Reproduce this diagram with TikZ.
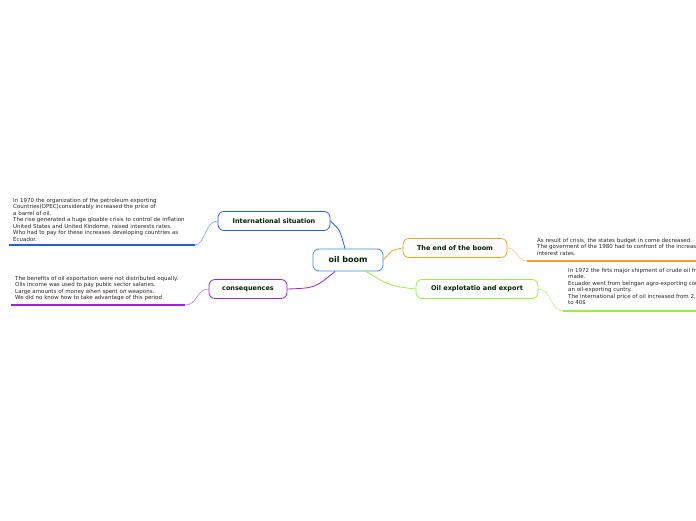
\documentclass[tikz,border=0pt]{standalone}
\usepackage{fontspec}
\setmainfont{DejaVu Sans}
\definecolor{cb}{HTML}{1F5FE0}\definecolor{cp}{HTML}{A020E0}\definecolor{co}{HTML}{F5A020}\definecolor{cg}{HTML}{9AEE40}\definecolor{cc}{HTML}{3A90D0}
\begin{document}
\begin{tikzpicture}[x=1pt,y=-1pt,
  topic/.style={draw,line width=0.8pt,rounded corners=6pt,fill=white,font=\fontsize{6.5}{7}\selectfont\bfseries,text=black!80!green!60!black,minimum height=19pt,inner sep=2pt},
  note/.style={anchor=north west,align=left,font=\fontsize{5.5}{6.5}\selectfont,text=black!85,inner sep=0pt},
  uline/.style={line width=1.3pt}]
\useasboundingbox (0,0) rectangle (696,520);
\clip (0,0) rectangle (696,520);
\node[topic,draw=cc,minimum width=70pt,minimum height=22pt,font=\fontsize{8}{9}\selectfont\bfseries] (root) at (348,260) {oil boom};
\node[topic,draw=cb,minimum width=112pt] (int) at (274,221) {International situation};
\node[topic,draw=cp,minimum width=78pt] (con) at (248,289) {consequences};
\node[topic,draw=co,minimum width=104pt] (end) at (455,248) {The end of the boom};
\node[topic,draw=cg,minimum width=122pt] (oil) at (477,289) {Oil explotatio and export};
\draw[cb,line width=0.8pt] (root.north) ++(-3,0) .. controls (340,230) .. (int.east);
\draw[cp,line width=0.8pt] (root.south) ++(-13,0) .. controls (315,288) .. (con.east);
\draw[co,line width=0.8pt] (root.east) .. controls (392,250) .. (end.west);
\draw[cg,line width=0.8pt] (root.south) ++(18,0) .. controls (390,286) .. (oil.west);
\node[note] (t1) at (13,198) {In 1970 the organization of the petroleum exporting\\Countries(OPEC)considerably increased the price of\\a barrel of oil.\\The rise generated a huge gloable crisis to control de inflation\\United States and United Kindome, raised interests rates.\\Who had to pay for these increases developing countries as\\Ecuador.};
\coordinate (u1a) at (9,245); \coordinate (u1b) at (195,245);
\draw[cb,uline] (u1a) -- (u1b);
\draw[cb!60,line width=0.6pt] (u1b) .. controls (205,245) and (205,221) .. (int.west);
\node[note] (t2) at (15,276) {The benefits of oil exportation were not distributed equally.\\Olis income was used to pay public sector salaries.\\Large amounts of money when spent on weapons.\\We did no know how to take advantage of this period};
\coordinate (u2a) at (11,305); \coordinate (u2b) at (185,305);
\draw[cp,uline] (u2a) -- (u2b);
\draw[cp!60,line width=0.6pt] (u2b) .. controls (198,305) and (196,289) .. (con.west);
\node[note] (t3) at (537,238) {As result of crisis, the states budget in come decreased.\\The goverment of the 1980 had to confront of the increase of\\interest rates.};
\coordinate (u3a) at (527,261); \coordinate (u3b) at (696,261);
\draw[co,uline] (u3a) -- (u3b);
\draw[co!60,line width=0.6pt] (end.east) .. controls (518,248) and (516,261) .. (u3a);
\node[note] (t4) at (568,268) {In 1972 the firts major shipment of crude oil from Ecuador was\\made.\\Ecuador went from beingan agro-exporting country to\\an oil-exporting cuntry.\\The international price of oil increased from 2,5\$\\to 40\$};
\coordinate (u4a) at (563,311); \coordinate (u4b) at (696,311);
\draw[cg,uline] (u4a) -- (u4b);
\draw[cg!70,line width=0.6pt] (oil.east) .. controls (552,289) and (550,311) .. (u4a);
\end{tikzpicture}
\end{document}
